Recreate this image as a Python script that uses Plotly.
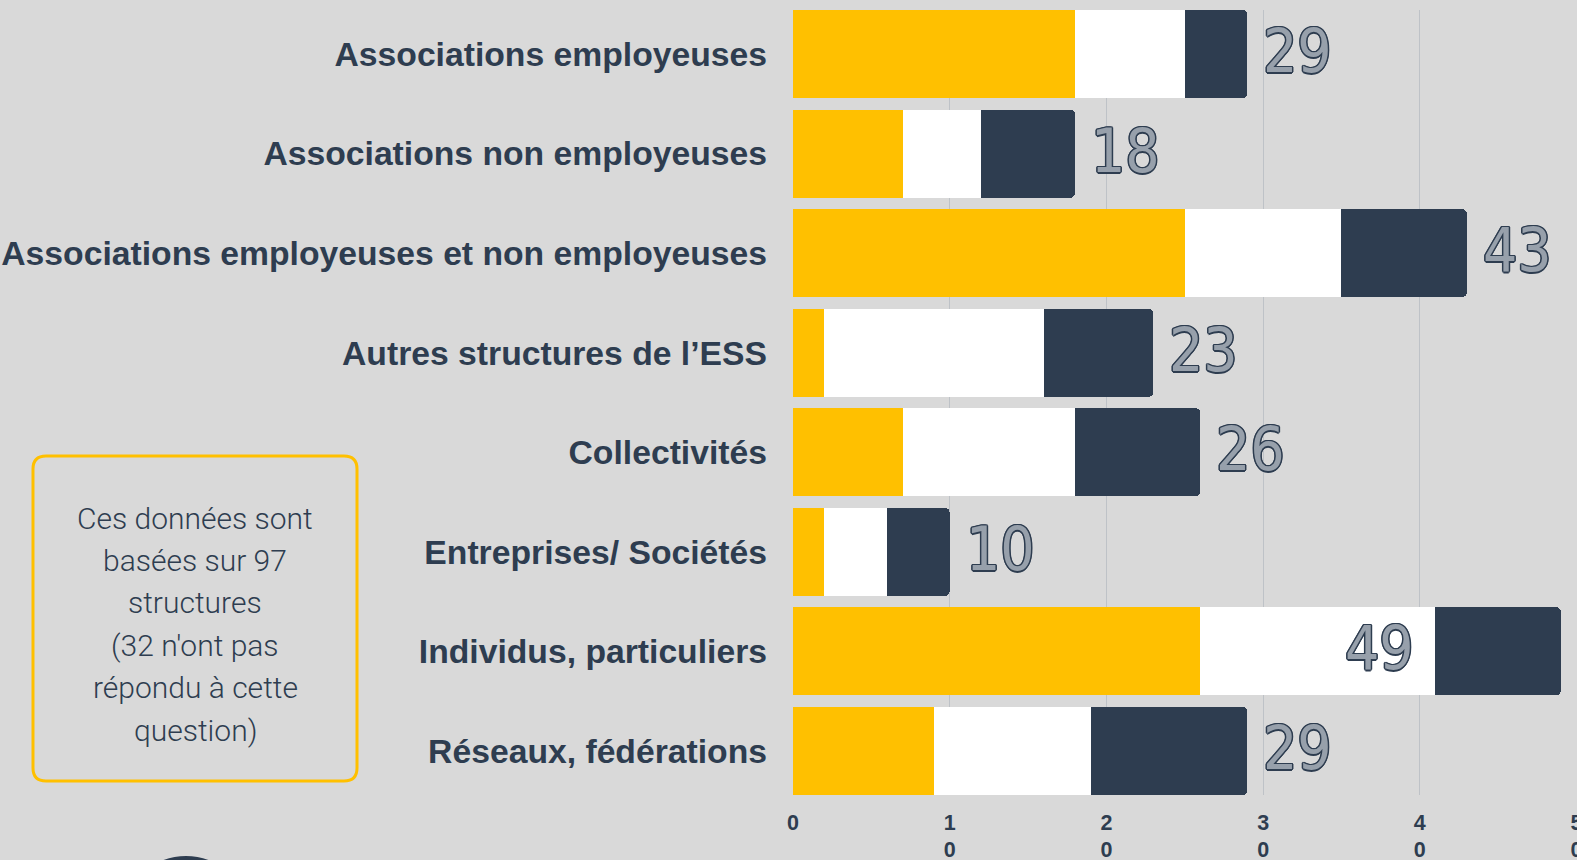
import plotly.graph_objects as go

# ---------------- data ----------------
categories = [
    "Associations employeuses",
    "Associations non employeuses",
    "Associations employeuses et non employeuses",
    "Autres structures de l’ESS",
    "Collectivités",
    "Entreprises/ Sociétés",
    "Individus, particuliers",
    "Réseaux, fédérations",
]
serie_jaune = [18, 7, 25, 2, 7, 2, 26, 9]
serie_blanche = [7, 5, 10, 14, 11, 4, 15, 10]
serie_marine = [4, 6, 8, 7, 8, 4, 8, 10]
totaux = [29, 18, 43, 23, 26, 10, 49, 29]

x_tickvals = [0, 10, 20, 30, 40, 50]
x_ticktext = ["0", "1<br>0", "2<br>0", "3<br>0", "4<br>0", "5<br>0"]

note_lines = [
    "Ces données sont",
    "basées sur 97",
    "structures",
    "(32 n'ont pas",
    "répondu à cette",
    "question)",
]

# ---------------- styles ----------------
BG = "#D9D9D9"
YELLOW = "#FFC000"
WHITE = "#FFFFFF"
NAVY = "#2E3D50"
GRID = "#BEC2C7"

W, H = 1577, 860
PL, PR, PT, PB = 793, 1577, 10, 795  # plot area in pixels


def px(x):
    return (x - PL) / (PR - PL)


def py(y):
    return (PB - y) / (PB - PT)


fig = go.Figure()
for vals, col, name in [
    (serie_jaune, YELLOW, "Série 1"),
    (serie_blanche, WHITE, "Série 2"),
    (serie_marine, NAVY, "Série 3"),
]:
    fig.add_trace(
        go.Bar(
            x=vals,
            y=categories,
            orientation="h",
            marker=dict(color=col, line=dict(width=0)),
            name=name,
            hoverinfo="x+y",
        )
    )

gap = 0.1128
fig.update_layout(
    template="none",
    width=W,
    height=H,
    barmode="stack",
    bargap=gap,
    barcornerradius=5,
    showlegend=False,
    paper_bgcolor=BG,
    plot_bgcolor=BG,
    margin=dict(l=PL, r=W - PR, t=PT, b=H - PB, autoexpand=False),
    xaxis=dict(
        range=[0, 50.03],
        tickvals=x_tickvals,
        ticktext=x_ticktext,
        showgrid=True,
        gridcolor=GRID,
        gridwidth=1.2,
        zeroline=False,
        showline=False,
        ticks="",
        automargin=False,
        ticklabelstandoff=12,
        ticklabeloverflow="allow",
        tickfont=dict(family="Liberation Sans, Arial, sans-serif", size=21.5, color=NAVY, weight="bold"),
    ),
    yaxis=dict(
        categoryorder="array",
        categoryarray=categories,
        range=[7.5 - gap / 2, -0.5 + gap / 2],
        showgrid=False,
        zeroline=False,
        showline=False,
        ticks="",
        automargin=False,
        ticklabelstandoff=25,
        ticklabeloverflow="allow",
        tickfont=dict(family="Liberation Sans, Arial, sans-serif", size=33.7, color=NAVY, weight="bold"),
    ),
)

# total labels
outline = ", ".join(f"{a}px {b}px 0 {NAVY}" for a, b in [(-1, -1), (1, -1), (-1, 1), (1, 1), (0, 1.5), (1.5, 0), (0, -1.5), (-1.5, 0)])
for cat, tot in zip(categories, totaux):
    inside = tot > 45
    fig.add_annotation(
        x=tot,
        y=cat,
        xref="x",
        yref="y",
        text=str(tot),
        showarrow=False,
        xanchor="right" if inside else "left",
        xshift=-145 if inside else 14,
        yshift=3,
        font=dict(family="Liberation Sans Narrow, DejaVu Sans Condensed, sans-serif", size=60, color="#97A0AB", shadow=outline),
    )

# note box (rounded rectangle)
bx0, by0, bx1, by1, r = 33, 456, 357, 781, 13
def P(x, y):
    return f"{px(x):.5f},{py(y):.5f}"
path = (
    f"M {P(bx0 + r, by0)} L {P(bx1 - r, by0)} Q {P(bx1, by0)} {P(bx1, by0 + r)} "
    f"L {P(bx1, by1 - r)} Q {P(bx1, by1)} {P(bx1 - r, by1)} "
    f"L {P(bx0 + r, by1)} Q {P(bx0, by1)} {P(bx0, by1 - r)} "
    f"L {P(bx0, by0 + r)} Q {P(bx0, by0)} {P(bx0 + r, by0)} Z"
)
fig.add_shape(type="path", path=path, xref="paper", yref="paper",
              line=dict(color=YELLOW, width=3), fillcolor="rgba(0,0,0,0)", layer="above")

line_y0, line_step = 518, 42.4
for i, t in enumerate(note_lines):
    fig.add_annotation(
        x=px(195), y=py(line_y0 + i * line_step), xref="paper", yref="paper",
        text=t, showarrow=False, xanchor="center", yanchor="middle",
        font=dict(family="Roboto, Lato, sans-serif", size=30, color=NAVY, weight=300),
    )

# partial dark circle at bottom-left
fig.add_shape(type="circle", xref="paper", yref="paper",
              x0=px(186 - 65), x1=px(186 + 65), y0=py(856 + 130), y1=py(856),
              fillcolor=NAVY, line=dict(width=0), layer="above")

fig.write_html(
    "out.html",
    config={"displayModeBar": False},
    post_script="document.body.style.margin='0';document.body.style.overflow='hidden';",
)
